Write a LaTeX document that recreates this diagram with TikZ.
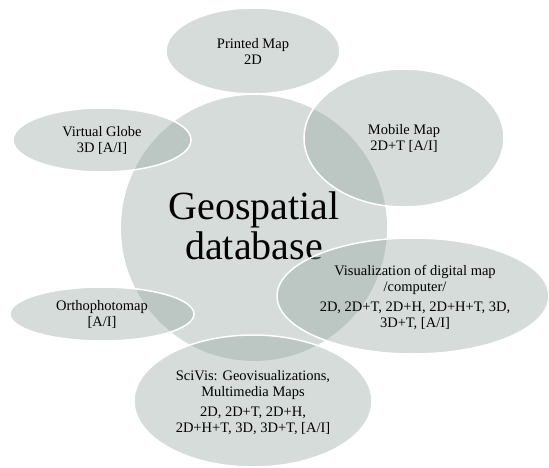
\documentclass[tikz,border=0pt]{standalone}
\usepackage{fontspec}
\setmainfont{Liberation Serif}
\usepackage{tikz}

\definecolor{bubblegrey}{RGB}{150,168,163}
\tikzset{bubble/.style={fill=bubblegrey, fill opacity=0.4, draw=white, draw opacity=1, line width=1.5pt}}
\newcommand{\bubblefont}{\fontsize{14.5}{16}\selectfont}

\begin{document}
\begin{tikzpicture}[x=1pt,y=1pt]
        \tikzstyle{every node}+=[inner sep=0pt, align=center, font=\bubblefont]
        \useasboundingbox (0,0) rectangle (549,-468);
        \fill [bubblegrey, fill opacity=0.4] (254,-228) circle (133);
        \draw (254,-226) node (geodb) [font=\fontsize{40}{40}\selectfont] {Geospatial\\database};
        \draw [bubble] (253,-51) ellipse (87 and 43);
        \draw (253,-51) node (printed) {Printed Map\\2D};
        \draw [bubble] (102,-140) ellipse (89 and 32);
        \draw (102,-140) node (globe) {Virtual Globe\\3D [A/I]};
        \draw [bubble] (404,-138) ellipse (100 and 69);
        \draw (404,-138) node (mobile) {Mobile Map\\2D+T [A/I]};
        \draw [bubble] (413,-296) ellipse (136 and 58);
        \draw (415,-298) node (digital) {Visualization of digital map\\/computer/\\[4pt]2D, 2D+T, 2D+H, 2D+H+T, 3D,\\3D+T, [A/I]};
        \draw [bubble] (102,-314) ellipse (92 and 27);
        \draw (102,-314) node (ortho) {Orthophotomap\\{[A/I]}};
        \draw [bubble] (253,-401) ellipse (119 and 66);
        \draw (253,-403) node (scivis) {SciVis: Geovisualizations,\\Multimedia Maps\\[4pt]2D, 2D+T, 2D+H,\\2D+H+T, 3D, 3D+T, [A/I]};
\end{tikzpicture}
\end{document}
